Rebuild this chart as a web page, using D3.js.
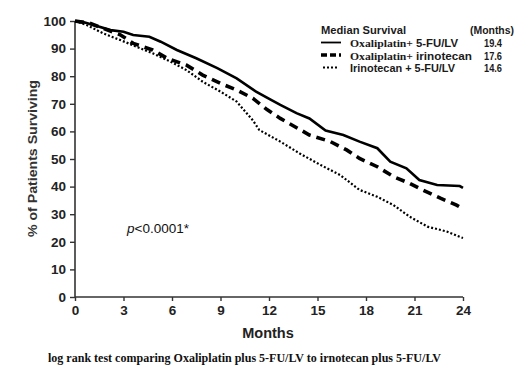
<!DOCTYPE html>
<html><head><meta charset="utf-8">
<script src="https://cdn.jsdelivr.net/npm/d3@7/dist/d3.min.js"></script>
<style>body{margin:0;background:#fff}svg{display:block}</style>
</head><body>
<script>
const months = [0,3,6,9,12,15,18,21,24];
const yTicks = [0,10,20,30,40,50,60,70,80,90,100];
const seriesNames = ["Oxaliplatin+ 5-FU/LV","Oxaliplatin+ irinotecan","Irinotecan + 5-FU/LV"];
const medians = ["19.4","17.6","14.6"];
const oxFuT = [0,0.5,1.2,2.2,3,3.6,4.6,5.3,6.3,7.5,8.8,10,11.2,12.1,12.7,13.7,14.5,15.5,16.6,17.6,18.7,19.5,20.5,21.3,22.4,23.8,24];
const oxFuV = [100,99.6,98.5,96.7,96.1,94.9,94.3,92.5,89.5,86.5,82.9,79.2,74.4,71.5,69.6,66.6,64.7,60.3,58.7,56.3,53.9,49,46.6,42.4,40.6,40.2,39.5];
const oxIrT = [0,0.9,2.8,3.6,4.8,5.7,6.9,7.9,9,10,11,11.9,12.7,14.5,15.8,16.8,17.6,18.7,19.7,20.7,21.5,22.6,23.6,24];
const oxIrV = [100,99.2,95,91.9,89.5,86.5,84,80.4,77.4,75,72,67.8,64.7,58.7,56.3,53.3,50.2,47.2,43.6,41.2,38.8,35.8,33.3,32];
const irFuT = [0,0.7,1.75,2.8,3.8,4.8,5.9,6.9,7.9,9,10,11,11.4,12.7,13.9,15.2,16.4,17.6,18.7,19.7,20.7,21.8,23,23.8,24];
const irFuV = [100,98.6,95.5,93.1,90.7,88.3,85.3,82.2,78,74.4,70.8,64,60.5,56.3,52,47.8,44.2,38.8,36.3,33.3,29.1,25.5,23.7,21.8,21.4];

const W=526,H=374;
const svg=d3.select("body").append("svg").attr("width",W).attr("height",H);
const x=d3.scaleLinear().domain([0,24]).range([75,463]);
const y=d3.scaleLinear().domain([0,100]).range([297,21]);
const ax="#333";
const sans="Liberation Sans, Arial, sans-serif", serif="Liberation Serif, Times New Roman, serif";

const gx=svg.append("g").attr("transform","translate(0,297)")
  .call(d3.axisBottom(x).tickValues(months).tickSize(4).tickPadding(4).tickFormat(d3.format("d")));
const gy=svg.append("g").attr("transform","translate(75,0)")
  .call(d3.axisLeft(y).tickValues(yTicks).tickSize(5).tickPadding(4).tickFormat(d3.format("d")));
[gx,gy].forEach(g=>{
  g.select(".domain").attr("stroke",ax).attr("stroke-width",1.6);
  g.selectAll(".tick line").attr("stroke",ax).attr("stroke-width",1.4);
  g.selectAll(".tick text").attr("fill","#222").style("font-family",sans).style("font-size","13.5px").style("font-weight","bold");
});
gy.select(".domain").attr("d","M0,297V21");
gx.select(".domain").attr("d","M75,0H463");

const line=d3.line().x(d=>x(d[0])).y(d=>y(d[1]));
const mk=(T,V)=>T.map((t,i)=>[t,V[i]]);
const styles=[
  {w:2.6,dash:null},
  {w:3.6,dash:"9,6"},
  {w:2.2,dash:"2,2"}
];
const data=[mk(oxFuT,oxFuV),mk(oxIrT,oxIrV),mk(irFuT,irFuV)];
data.forEach((d,i)=>{
  svg.append("path").datum(d).attr("d",line).attr("fill","none").attr("stroke","#000")
    .attr("stroke-width",styles[i].w).attr("stroke-dasharray",styles[i].dash);
});

// legend
function txt(xx,yy,s,fam,size,len,anchor){
  const t=svg.append("text").attr("x",xx).attr("y",yy).style("font-family",fam).style("font-size",size+"px")
    .style("font-weight","bold").attr("fill","#1a1a1a").text(s);
  if(anchor) t.attr("text-anchor",anchor);
  if(len) t.attr("textLength",len).attr("lengthAdjust","spacingAndGlyphs");
  return t;
}
txt(321,34,"Median Survival",sans,10.5,85);
txt(470,34,"(Months)",sans,10.5,44);
const rows=[["Oxaliplatin+","5-FU/LV",63,42],["Oxaliplatin+","irinotecan",63,56],[null,"Irinotecan + 5-FU/LV",0,105]];
rows.forEach((p,i)=>{
  const yy=47+i*12.5;
  svg.append("line").attr("x1",i==2?323:321).attr("x2",i==2?339:341).attr("y1",yy-4.5).attr("y2",yy-4.5).attr("stroke","#000")
    .attr("stroke-width",i==0?1.8:styles[i].w).attr("stroke-dasharray",i==1?"6,3":styles[i].dash);
  if(p[0]){ txt(350,yy,p[0],serif,11,p[2]); txt(416,yy,p[1],sans,10.5,p[3]); }
  else txt(350,yy,p[1],sans,10.5,p[3]);
  txt(484,yy,medians[i],sans,10.5,18);
});

// labels
svg.append("text").attr("transform","translate(37,158.5) rotate(-90)").attr("text-anchor","middle")
  .style("font-family",sans).style("font-size","13.5px").style("font-weight","bold").attr("fill","#333")
  .attr("textLength",157).attr("lengthAdjust","spacingAndGlyphs").text("% of Patients Surviving");
svg.append("text").attr("x",268).attr("y",338).attr("text-anchor","middle")
  .style("font-family",sans).style("font-size","14.5px").style("font-weight","bold").attr("fill","#222").text("Months");
const pt=svg.append("text").attr("x",127).attr("y",233).style("font-family",sans).style("font-size","13.5px").attr("fill","#111");
pt.append("tspan").style("font-style","italic").text("p");
pt.append("tspan").text("<0.0001*");
svg.append("text").attr("x",48).attr("y",362).style("font-family",serif).style("font-size","12px").style("font-weight","bold").attr("fill","#111")
  .attr("textLength",393).attr("lengthAdjust","spacingAndGlyphs")
  .text("log rank test comparing Oxaliplatin plus 5-FU/LV to irnotecan plus 5-FU/LV");
</script>
</body></html>
